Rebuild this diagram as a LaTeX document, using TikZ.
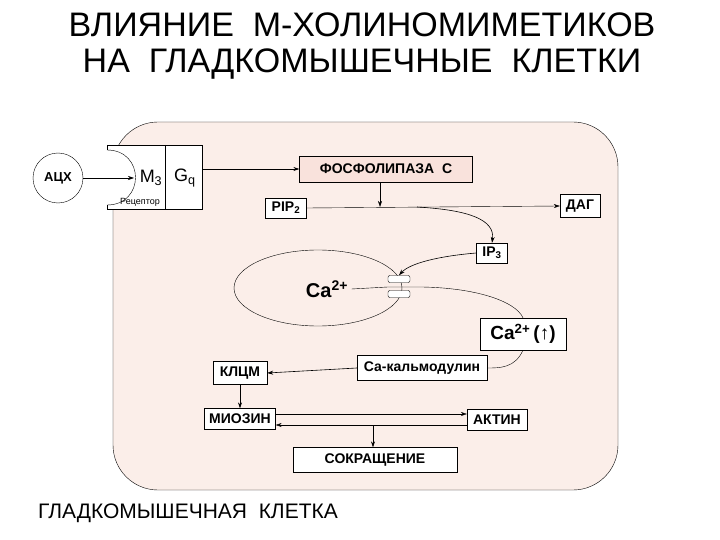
\documentclass[tikz,border=0pt]{standalone}
\usepackage{fontspec}
\setmainfont{Liberation Sans}
\usetikzlibrary{arrows.meta}
\definecolor{cellpink}{HTML}{FBEEE9}
\definecolor{plcpink}{HTML}{F9E2DC}
\begin{document}
\begin{tikzpicture}[x=1pt,y=-1pt,
  box/.style={draw,fill=white,inner sep=0pt,font=\bfseries\fontsize{14}{14}\selectfont,minimum height=20pt},
  arr/.style={-{Stealth[length=6pt,width=4pt]},semithick},
  ln/.style={thin}]
\useasboundingbox (0,0) rectangle (720,540);
\fill[white] (0,0) rectangle (720,540);
\node (t1) at (362,25) {\fontsize{34}{34}\selectfont ВЛИЯНИЕ\ \ М-ХОЛИНОМИМЕТИКОВ};
\node (t2) at (362,64) {\fontsize{34}{34}\selectfont НА\ \ ГЛАДКОМЫШЕЧНЫЕ\ \ КЛЕТКИ};
\draw[fill=cellpink] (113,490) [rounded corners=45pt] -- (113,122) -- (618,122) -- (618,490) -- cycle;
% receptor
\fill[white] (107,145) rectangle (202,209);
\draw (107,145) -- (202,145) -- (202,209) -- (107,209) -- (107,205);
\draw (107,145) -- (107,150);
\draw (107,150) .. controls (145,150) and (145,205) .. (107,205);
\draw (165,145) -- (165,209);
\node (m3) at (151,178) {\fontsize{18}{18}\selectfont M\textsubscript{3}};
\node (gq) at (185,178) {\fontsize{18}{18}\selectfont G\textsubscript{q}};
\node (rec) at (140,202) {\fontsize{9}{9}\selectfont Рецептор};
\coordinate (recL) at (134,178);
\node[draw,circle,minimum size=50pt,inner sep=0pt,fill=white,font=\bfseries\fontsize{13}{13}\selectfont] (ach) at (58,178) {АЦХ};
\draw[arr] (ach) -- (recL);
\node[box,fill=plcpink,minimum width=173pt,minimum height=26pt] (plc) at (386,169) {ФОСФОЛИПАЗА\ \ С};
\draw[arr] (202,169) -- (plc.west);
\node[box,minimum width=41pt] (pip) at (286,208) {PIP\textsubscript{2}};
\node[box,minimum width=40pt,minimum height=23pt] (dag) at (580,206) {ДАГ};
\draw[arr,thin] (pip.east) -- (dag.west);
\coordinate (j) at (380,207);
\draw[arr] (plc.south -| j) -- (j);
\node[box,minimum width=31pt] (ip3) at (492,253) {IP\textsubscript{3}};
\draw[arr] (417,207) .. controls (470,210) and (495,220) .. (ip3.north);
\draw (318,288) ellipse (84pt and 38pt);
\node[draw,fill=white,rounded corners=2pt,minimum width=22pt,minimum height=7pt,inner sep=0pt] (ch1) at (399,279) {};
\node[draw,fill=white,rounded corners=2pt,minimum width=22pt,minimum height=7pt,inner sep=0pt] (ch2) at (399,294) {};
\node (ca) at (327,289) {\bfseries\fontsize{20}{20}\selectfont Ca\textsuperscript{2+}};
\draw[arr] (ip3.west) .. controls (440,256) and (410,263) .. (ch1.north);
\node[box,minimum width=86pt,minimum height=32pt,font=\bfseries\fontsize{19}{19}\selectfont] (cai) at (523,334) {Ca\textsuperscript{2+}\,(\textuparrow)};
\node[box,minimum width=130pt,minimum height=25pt] (cam) at (422,368) {Са-кальмодулин};
\draw[ln] (ca.east) -- (ch2.west |- 287,287) -- (ch2.east |- 287,287) .. controls (470,286) and (515,300) .. (cai.north);
\draw[ln] (cai.south) .. controls (515,368) and (500,368) .. (cam.east);
\node[box,minimum width=54pt,minimum height=23pt] (klcm) at (240,373) {КЛЦМ};
\draw[arr] (cam.west) -- (klcm.east);
\node[box,minimum width=71pt,minimum height=21pt] (myo) at (240,419) {МИОЗИН};
\node[box,minimum width=60pt,minimum height=21pt] (act) at (497,420) {АКТИН};
\draw[arr] (klcm.south) -- (myo.north);
\draw[arr,thin] (myo.east |- 0,414) -- (act.west |- 0,414);
\draw[arr,thin] (act.west |- 0,425) -- (myo.east |- 0,425);
\node[box,minimum width=164pt,minimum height=25pt] (sok) at (375,460) {СОКРАЩЕНИЕ};
\draw[arr] (373,425) -- (sok.north -| 373,0);
\node (lbl) at (188,513) {\fontsize{21}{21}\selectfont ГЛАДКОМЫШЕЧНАЯ\ \ КЛЕТКА};
\end{tikzpicture}
\end{document}
